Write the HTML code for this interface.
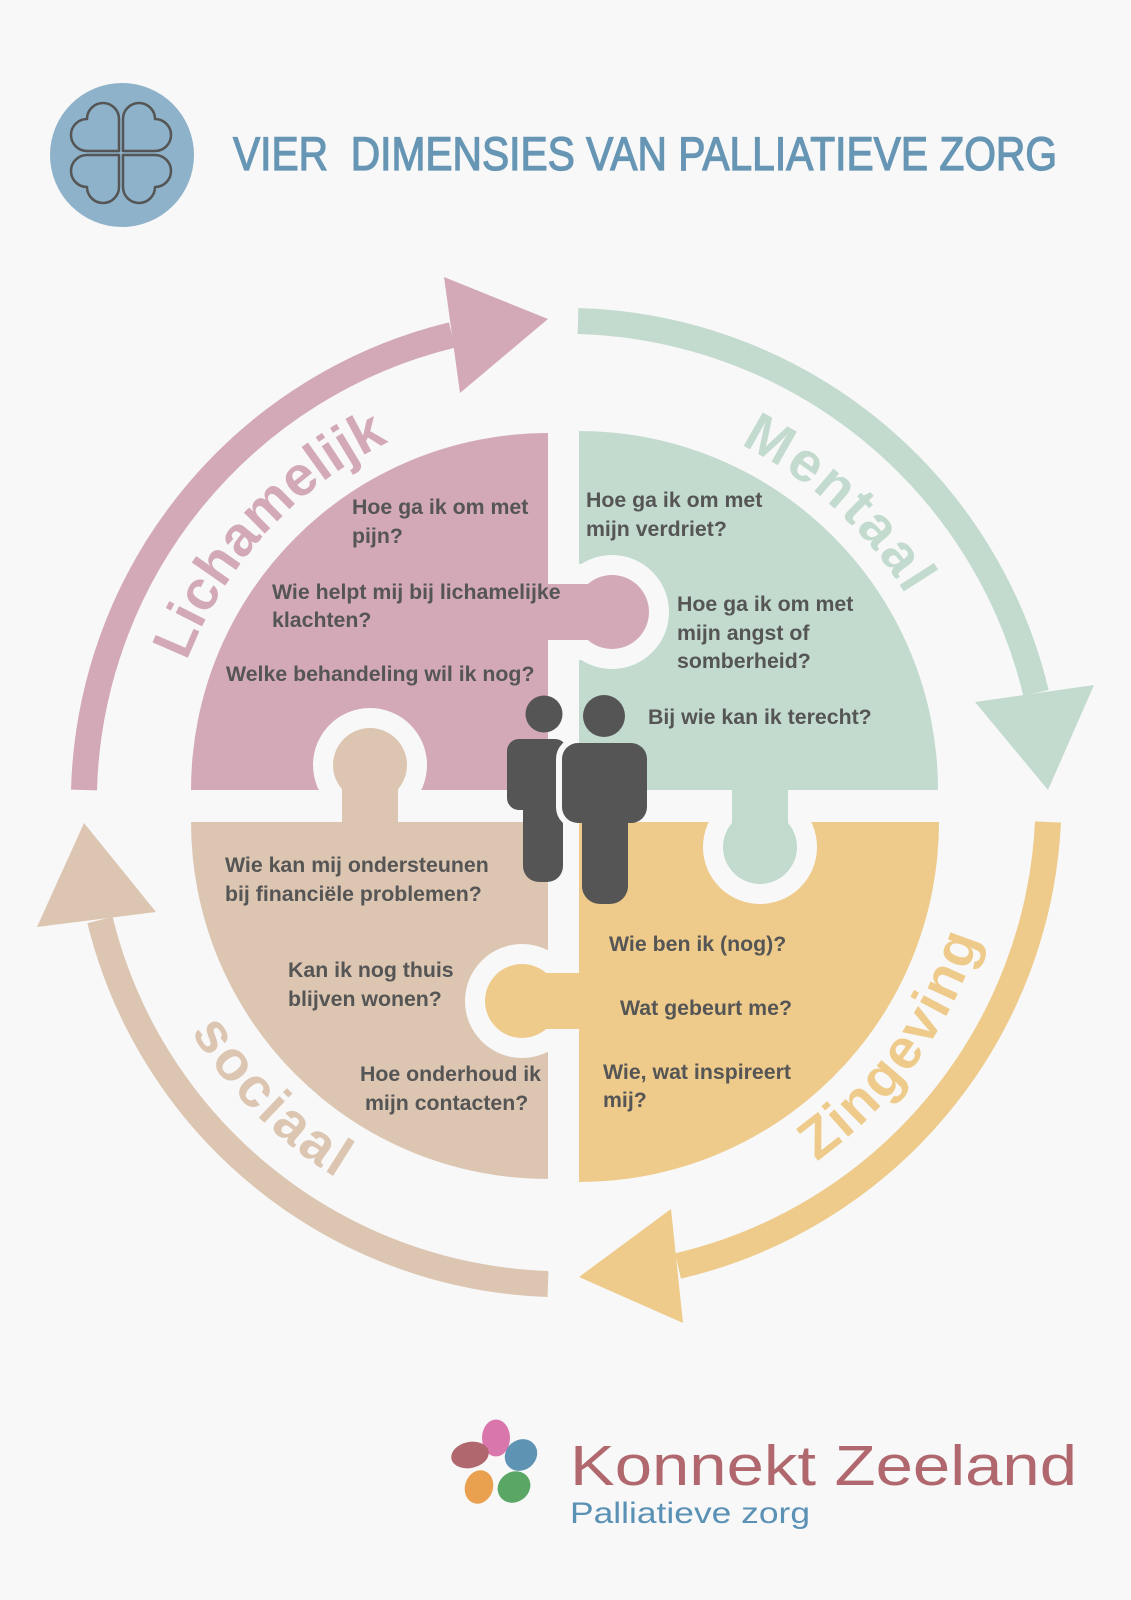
<!DOCTYPE html>
<html>
<head>
<meta charset="utf-8">
<style>
  html,body{margin:0;padding:0;background:#f8f8f8;}
  svg{display:block;}
  .q{font-family:"Liberation Sans",Arial,sans-serif;font-weight:bold;font-size:21.3px;fill:#555555;}
  .lbl{font-family:"Liberation Sans",Arial,sans-serif;font-weight:bold;font-size:56px;}
</style>
</head>
<body>
<svg width="1131" height="1600" viewBox="0 0 1131 1600" xmlns="http://www.w3.org/2000/svg">
  <defs>
    <clipPath id="clipL"><rect x="0" y="0" width="579" height="1600"/></clipPath>
    <path id="pL" d="M186.8,661.2 A404,404 0 0 1 599.2,403.5"/>
    <path id="pM" d="M740.2,444.7 A402,402 0 0 1 959.9,736.2"/>
    <path id="pZ" d="M816.6,1161.4 A436,436 0 0 0 998.3,844.0"/>
    <path id="pS" d="M191.1,1031.9 A436,436 0 0 0 488.3,1235.4"/>
  </defs>
  <rect width="1131" height="1600" fill="#f8f8f8"/>

  <!-- Header -->
  <circle cx="122" cy="155" r="72" fill="#8db2ca"/>
  <g fill="none" stroke="#555555" stroke-width="2.5" stroke-linejoin="round">
    <path d="M119,151 L119,119 A16,16 0 0 0 87,119 A16,16 0 0 0 87,151 Z"/>
    <path d="M123,151 L123,119 A16,16 0 0 1 155,119 A16,16 0 0 1 155,151 Z"/>
    <path d="M119,155 L119,187 A16,16 0 0 1 87,187 A16,16 0 0 1 87,155 Z"/>
    <path d="M123,155 L123,187 A16,16 0 0 0 155,187 A16,16 0 0 0 155,155 Z"/>
  </g>
  <text x="233" y="170" font-family="'Liberation Sans',Arial,sans-serif" font-size="47" fill="#6796b5" stroke="#6796b5" stroke-width="1.3" textLength="824" lengthAdjust="spacingAndGlyphs" xml:space="preserve">VIER  DIMENSIES VAN PALLIATIEVE ZORG</text>

  <!-- Arrows -->
  <g fill="none" stroke-width="26" stroke-linecap="butt">
    <path d="M84,790 A482,482 0 0 1 452,335" stroke="#d3a9b8"/>
    <path d="M578,321 A485,485 0 0 1 1036,693" stroke="#c3dbcf"/>
    <path d="M1048,822 A480,480 0 0 1 678,1266" stroke="#eecb8b"/>
    <path d="M548,1284 A478,478 0 0 1 100,920" stroke="#dcc6b2"/>
  </g>
  <polygon points="444,277 548,319 460,393" fill="#d3a9b8"/>
  <polygon points="975,702 1094,685 1048,790" fill="#c3dbcf"/>
  <polygon points="671,1209 683,1323 579,1277" fill="#eecb8b"/>
  <polygon points="37,927 156,912 84,823" fill="#dcc6b2"/>

  <!-- Curved labels -->
  <text class="lbl" fill="#d3a9b8"><textPath href="#pL">Lichamelijk</textPath></text>
  <text class="lbl" fill="#c3dbcf" letter-spacing="3"><textPath href="#pM">Mentaal</textPath></text>
  <text class="lbl" fill="#eecb8b" letter-spacing="2"><textPath href="#pZ">Zingeving</textPath></text>
  <text class="lbl" fill="#dcc6b2" letter-spacing="3"><textPath href="#pS">sociaal</textPath></text>

  <!-- Quadrants -->
  <path d="M548,790 L191,790 A357,357 0 0 1 548,433 Z" fill="#d3a9b8"/>
  <path d="M579,790 L579,431 A359,359 0 0 1 938,790 Z" fill="#c3dbcf"/>
  <path d="M548,822 L548,1179 A357,357 0 0 1 191,822 Z" fill="#dcc6b2"/>
  <path d="M579,822 L939,822 A360,360 0 0 1 579,1182 Z" fill="#eecb8b"/>

  <!-- Knob outlines -->
  <g fill="#f8f8f8">
    <circle cx="612" cy="612" r="57"/><rect x="560" y="564" width="52" height="96"/>
    <circle cx="370" cy="765" r="57"/><rect x="322" y="765" width="96" height="41"/>
    <circle cx="760" cy="847" r="57"/><rect x="712" y="806" width="96" height="41"/>
    <circle cx="522" cy="1001" r="57"/><rect x="522" y="953" width="42" height="96"/>
  </g>

  <!-- Knobs -->
  <g fill="#d3a9b8"><circle cx="612" cy="612" r="37"/><rect x="540" y="584" width="72" height="56"/></g>
  <g fill="#dcc6b2"><circle cx="370" cy="765" r="37"/><rect x="342" y="765" width="56" height="65"/></g>
  <g fill="#c3dbcf"><circle cx="760" cy="847" r="37"/><rect x="732" y="780" width="56" height="67"/></g>
  <g fill="#eecb8b"><circle cx="522" cy="1001" r="37"/><rect x="522" y="973" width="68" height="56"/></g>

  <!-- Questions: Lichamelijk -->
  <text class="q" x="352" y="514">Hoe ga ik om met</text>
  <text class="q" x="352" y="543">pijn?</text>
  <text class="q" x="272" y="599">Wie helpt mij bij lichamelijke</text>
  <text class="q" x="272" y="627">klachten?</text>
  <text class="q" x="226" y="681">Welke behandeling wil ik nog?</text>

  <!-- Mentaal -->
  <text class="q" x="586" y="507">Hoe ga ik om met</text>
  <text class="q" x="586" y="536">mijn verdriet?</text>
  <text class="q" x="677" y="611">Hoe ga ik om met</text>
  <text class="q" x="677" y="640">mijn angst of</text>
  <text class="q" x="677" y="668">somberheid?</text>
  <text class="q" x="648" y="724">Bij wie kan ik terecht?</text>

  <!-- Sociaal -->
  <text class="q" x="225" y="872">Wie kan mij ondersteunen</text>
  <text class="q" x="225" y="901">bij financiële problemen?</text>
  <text class="q" x="288" y="977">Kan ik nog thuis</text>
  <text class="q" x="288" y="1006">blijven wonen?</text>
  <text class="q" x="360" y="1081">Hoe onderhoud ik</text>
  <text class="q" x="365" y="1110">mijn contacten?</text>

  <!-- Zingeving -->
  <text class="q" x="609" y="951">Wie ben ik (nog)?</text>
  <text class="q" x="620" y="1015">Wat gebeurt me?</text>
  <text class="q" x="603" y="1079">Wie, wat inspireert</text>
  <text class="q" x="603" y="1107">mij?</text>

  <!-- Figures -->
  <g fill="#555555">
    <circle cx="544" cy="714" r="18.5"/>
    <rect x="507" y="739" width="60" height="71" rx="12"/>
    <rect x="523" y="790" width="40" height="92" rx="16"/>
  </g>
  <g clip-path="url(#clipL)" fill="#f8f8f8" stroke="#f8f8f8" stroke-width="12">
    <rect x="562" y="743" width="85" height="80" rx="16"/>
    <rect x="582" y="790" width="46" height="114" rx="18"/>
  </g>
  <g fill="#555555">
    <circle cx="604" cy="716" r="21"/>
    <rect x="562" y="743" width="85" height="80" rx="16"/>
    <rect x="582" y="790" width="46" height="114" rx="18"/>
  </g>

  <!-- Logo -->
  <ellipse cx="496" cy="1438" rx="14" ry="18.5" fill="#d977ad"/>
  <ellipse cx="470" cy="1455" rx="19" ry="13" transform="rotate(-12 470 1455)" fill="#b0686e"/>
  <ellipse cx="521" cy="1455" rx="17" ry="15" transform="rotate(-40 521 1455)" fill="#5f93b4"/>
  <ellipse cx="479" cy="1487" rx="14" ry="17" transform="rotate(18 479 1487)" fill="#e9a14f"/>
  <ellipse cx="514" cy="1487" rx="17" ry="15" transform="rotate(-35 514 1487)" fill="#5aa765"/>
  <text x="570" y="1485" font-family="'Liberation Sans',Arial,sans-serif" font-size="57" fill="#b0686e" textLength="507" lengthAdjust="spacingAndGlyphs">Konnekt Zeeland</text>
  <text x="570" y="1523" font-family="'Liberation Sans',Arial,sans-serif" font-size="30" fill="#5a91b5" textLength="240" lengthAdjust="spacingAndGlyphs">Palliatieve zorg</text>
</svg>
</body>
</html>
